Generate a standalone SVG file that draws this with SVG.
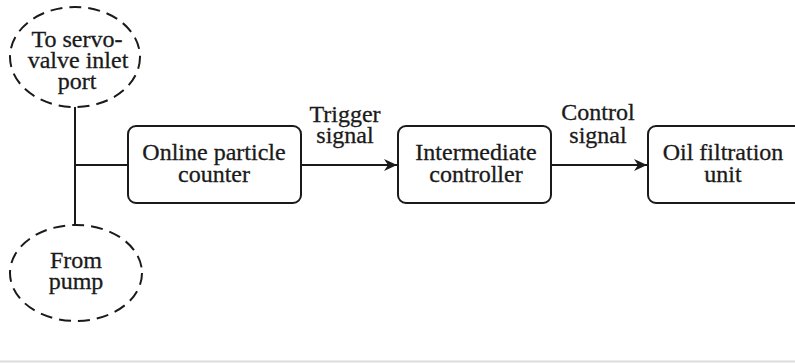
<svg xmlns="http://www.w3.org/2000/svg" width="795" height="363" viewBox="0 0 795 363">
<style>
text{font-family:"Liberation Serif","Times New Roman",serif;font-size:24px;fill:#1a1a1a;text-anchor:middle;stroke:#1a1a1a;stroke-width:0.3}
.box{fill:#fff;stroke:#1a1a1a;stroke-width:2}
.port{fill:none;stroke:#1a1a1a;stroke-width:2;stroke-dasharray:12 7}
.wire{fill:none;stroke:#1a1a1a;stroke-width:2}
</style>
<defs>
<marker id="arr" markerWidth="14" markerHeight="12" refX="13" refY="6" orient="auto" markerUnits="userSpaceOnUse">
<path d="M0,0 L13,6 L0,12 L4,6 Z" fill="#1a1a1a"/>
</marker>
</defs>
<rect width="795" height="363" fill="#fff"/>
<g id="connectors">
<line class="wire" x1="75" y1="107" x2="75" y2="225"/>
<line class="wire" x1="75" y1="165" x2="128" y2="165"/>
<line class="wire" x1="301" y1="165" x2="397" y2="165" marker-end="url(#arr)"/>
<line class="wire" x1="551" y1="165" x2="647" y2="165" marker-end="url(#arr)"/>
<text x="345" y="122">Trigger</text>
<text x="345" y="143">signal</text>
<text x="598" y="120">Control</text>
<text x="598" y="143">signal</text>
</g>
<g id="servo-inlet">
<ellipse class="port" cx="75" cy="57" rx="65" ry="50"/>
<text x="77" y="47">To servo-</text>
<text x="78" y="68">valve inlet</text>
<text x="77" y="89">port</text>
</g>
<g id="pump">
<ellipse class="port" cx="76" cy="273" rx="66" ry="48"/>
<text x="76" y="268">From</text>
<text x="76" y="289">pump</text>
</g>
<g id="counter">
<rect class="box" x="128" y="126" width="173" height="77" rx="8"/>
<text x="214" y="160">Online particle</text>
<text x="214" y="182">counter</text>
</g>
<g id="controller">
<rect class="box" x="398" y="126" width="153" height="77" rx="8"/>
<text x="476" y="160">Intermediate</text>
<text x="476" y="182">controller</text>
</g>
<g id="filtration">
<rect class="box" x="648" y="126" width="160" height="77" rx="8"/>
<text x="723" y="160">Oil filtration</text>
<text x="723" y="182">unit</text>
</g>
<line x1="0" y1="361.5" x2="795" y2="361.5" stroke="#dcdcdc" stroke-width="2"/>
</svg>
